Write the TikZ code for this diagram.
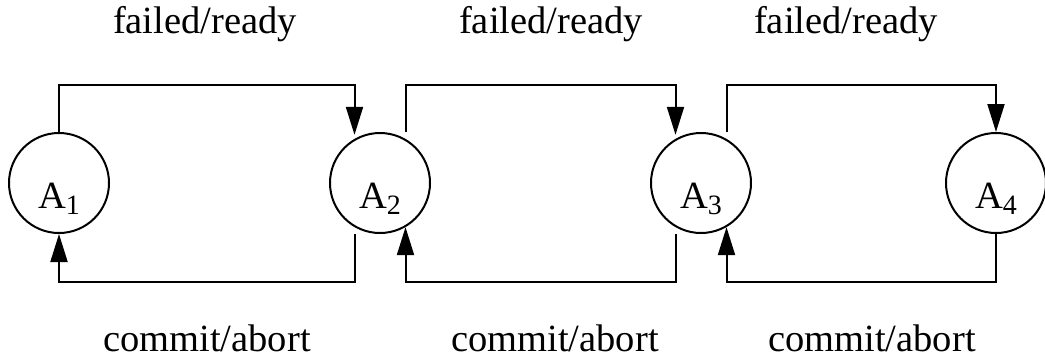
\documentclass[tikz,border=0pt]{standalone}
\usepackage{fontspec}
\setmainfont{Liberation Serif}
\usetikzlibrary{arrows.meta}

% agent name with a lowered index
\newcommand{\agentname}[1]{A\raisebox{-3pt}{\fontsize{14}{15}\selectfont #1}}

\begin{document}
\begin{tikzpicture}[x=0.5pt,y=-0.5pt,
    agent/.style={draw,circle,minimum size=50pt,inner sep=0pt,line width=1pt},
    link/.style={line width=1pt,-{Triangle[length=14pt,width=8.5pt]}},
    msg/.style={anchor=base,font=\fontsize{19.25}{22}\selectfont}]
\useasboundingbox (0,0) rectangle (1045,359);

\coordinate (top) at (0,85);
\coordinate (bot) at (0,282);

\foreach \i/\x in {1/59,2/380,3/701,4/996} {
    \node [agent] (a\i) at (\x,183) {};
    \node [font=\fontsize{19.25}{22}\selectfont] (n\i) at ([yshift=-8pt]a\i.center) {\agentname{\i}};
}

% failed/ready goes right
\draw [link,shorten >=2pt] (a1.north) -- (a1.north |- top) -| (a2.120);
\draw [link,shorten <=3.5pt,shorten >=2pt] (a2.60) -- (a2.60 |- top) -| (a3.120);
\draw [link,shorten <=3.5pt] (a3.60) -- (a3.60 |- top) -| (a4.north);

% commit/abort goes back
\draw [link,shorten <=3.5pt] (a2.240) -- (a2.240 |- bot) -| (a1.south);
\draw [link,shorten <=3.5pt] (a3.240) -- (a3.240 |- bot) -| (a2.300);
\draw [link] (a4.south) -- (a4.south |- bot) -| (a3.300);

\node [msg] (f1) at (205,33) {failed/ready};
\node [msg] (f2) at (551,33) {failed/ready};
\node [msg] (f3) at (846,33) {failed/ready};
\node [msg] (c1) at (207,351) {commit/abort};
\node [msg] (c2) at (555,351) {commit/abort};
\node [msg] (c3) at (872,351) {commit/abort};
\end{tikzpicture}
\end{document}
